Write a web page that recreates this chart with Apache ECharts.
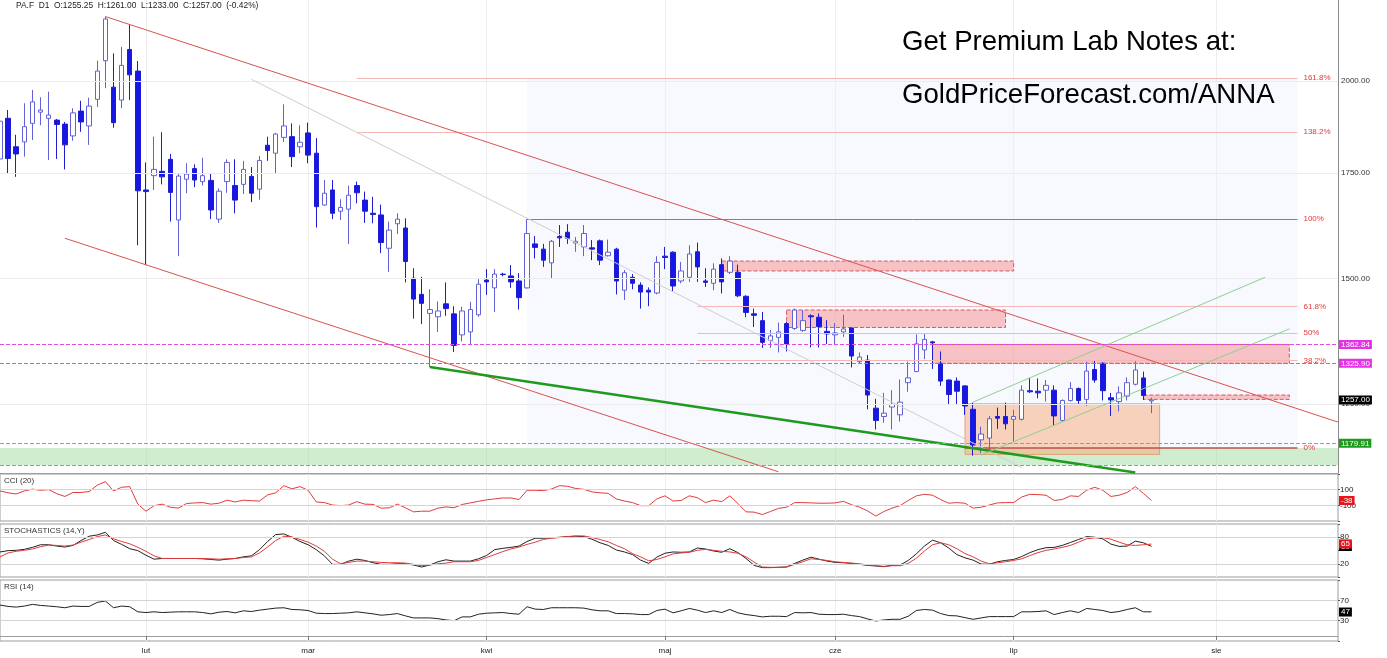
<!DOCTYPE html>
<html><head><meta charset="utf-8">
<script src="https://cdn.jsdelivr.net/npm/echarts@6.0.0/dist/echarts.min.js"></script>
<style>html,body{margin:0;padding:0;background:#fff}#c{width:1387px;height:658px}</style>
</head><body><div id="c"></div>
<script>
// ---------- DATA ----------
const N_SLOTS = 166;
const categories = Array.from({length: N_SLOTS}, (_, i) => 'D' + i);
const monthTickIdx = [18, 38, 60, 82, 103, 125, 150];
const monthTickLabels = ['lut', 'mar', 'kwi', 'maj', 'cze', 'lip', 'sie'];

const open = [1786,1895,1818,1831,1881,1912,1895,1890,1879,1847,1915,1874,1948,2061,1983,1946,2095,2030,1707,1743,
1754,1785,1634,1734,1761,1728,1731,1636,1728,1718,1721,1741,1709,1822,1801,1843,1845,1818,1855,1801,
1670,1707,1655,1660,1718,1682,1650,1646,1568,1625,1615,1501,1466,1426,1419,1446,1425,1382,1388,1423,
1497,1480,1510,1506,1495,1480,1578,1566,1535,1595,1605,1580,1571,1569,1585,1551,1566,1475,1503,1486,
1475,1469,1550,1559,1495,1503,1560,1495,1490,1531,1514,1514,1462,1425,1411,1371,1377,1405,1395,1391,
1421,1418,1389,1382,1388,1396,1329,1332,1242,1227,1244,1230,1289,1310,1352,1368,1326,1294,1292,1283,
1240,1186,1189,1227,1227,1222,1222,1274,1273,1275,1275,1220,1256,1278,1258,1314,1326,1261,1254,1264,
1286,1298,1255.25];
const close = [1887,1787,1799,1872,1941,1918,1904,1878,1823,1910,1885,1929,2030,2190,1883,2047,2019,1705,1703,1759,
1740,1701,1742,1747,1732,1743,1658,1704,1777,1682,1759,1699,1782,1808,1852,1874,1792,1830,1796,1666,
1699,1650,1664,1694,1700,1655,1647,1581,1610,1636,1538,1456,1447,1434,1431,1436,1361,1431,1434,1488,
1493,1510,1509,1493,1459,1602,1570,1541,1584,1592,1591,1584,1602,1566,1541,1559,1495,1513,1490,1471,
1471,1536,1547,1484,1517,1555,1526,1492,1521,1493,1539,1463,1428,1422,1367,1380,1388,1364,1433,1411,
1419,1399,1384,1386,1394,1340,1338,1266,1220,1233,1249,1253,1298,1364,1373,1366,1292,1267,1273,1246,
1177,1196,1223,1224,1214,1227,1275,1272,1270,1284,1228,1256,1278,1256,1311,1294,1274,1257,1270,1289,
1313,1265,1257];
const high = [1896,1918,1850,1937,1975,1954,1970,1893,1885,1923,1944,1953,2061,2198,2083,2103,2173,2060,1777,1845,
1857,1799,1749,1775,1772,1789,1749,1711,1785,1785,1781,1765,1794,1845,1855,1934,1881,1876,1883,1841,
1732,1732,1684,1718,1728,1703,1690,1671,1630,1650,1638,1523,1504,1477,1451,1492,1441,1440,1450,1499,
1521,1521,1513,1530,1512,1636,1596,1578,1587,1622,1624,1594,1622,1587,1588,1588,1569,1519,1510,1492,
1481,1550,1571,1561,1537,1575,1581,1523,1534,1545,1550,1531,1464,1436,1429,1392,1407,1409,1436,1433,
1424,1426,1412,1406,1423,1397,1347,1342,1259,1270,1275,1295,1329,1383,1385,1370,1349,1295,1299,1284,
1252,1209,1228,1243,1252,1239,1284,1298,1297,1294,1284,1258,1290,1280,1329,1331,1328,1270,1282,1299,
1330,1310,1261];
const low = [1778,1749,1740,1792,1836,1876,1783,1786,1759,1834,1858,1823,1926,1980,1869,1923,1946,1575,1530,1707,
1721,1630,1550,1699,1714,1718,1636,1627,1700,1650,1697,1677,1683,1781,1747,1831,1765,1801,1775,1616,
1668,1636,1634,1578,1674,1627,1626,1557,1515,1601,1492,1415,1404,1319,1388,1421,1348,1369,1363,1419,
1465,1429,1505,1480,1434,1478,1545,1526,1501,1571,1578,1560,1550,1541,1530,1549,1466,1454,1477,1436,
1441,1466,1521,1473,1490,1493,1493,1482,1475,1468,1510,1460,1418,1398,1356,1356,1347,1349,1392,1388,
1357,1357,1364,1364,1378,1318,1326,1240,1204,1216,1204,1218,1272,1309,1334,1315,1283,1248,1249,1230,
1159,1163,1167,1205,1204,1182,1220,1270,1260,1254,1210,1218,1254,1250,1246,1289,1256,1228,1236,1256,
1284,1257,1233];

const cci = [84,60,45,84,107,92,100,49,13,64,64,76,158,202,84,131,139,-85,-175,-104,
-85,-124,-136,-77,-69,-65,-85,-73,-34,-57,-34,-41,-45,33,60,151,111,139,92,-57,
-65,-96,-104,-96,-53,-85,-88,-136,-132,-85,-132,-183,-175,-175,-136,-120,-130,-89,-69,-49,
-30,-18,-6,-6,-26,92,92,88,108,151,143,115,104,72,60,53,-18,-45,-65,-104,
-104,-18,21,-45,-38,21,-2,-65,-34,-53,21,-77,-183,-187,-218,-179,-139,-124,-65,-65,
-69,-73,-73,-69,-49,-92,-124,-171,-237,-179,-136,-104,-38,21,41,29,-26,-73,-65,-73,
-136,-124,-96,-69,-65,-65,6,41,37,29,-38,-26,21,13,92,131,92,13,29,64,
139,53,-38];
const stochK = [46.7,49.7,50.4,52.6,57.1,63,63,60,57.8,61.5,72.6,82.3,85.2,91.2,72.6,63.8,54.1,49.7,39.3,30.4,
31.9,31.9,31.9,31.9,31.9,31.2,29.7,28.2,30.4,31.9,35.6,37.8,51.9,70.4,86,87.5,80,70.4,63,51.9,
37.8,18.6,18.6,26,30.4,27.5,22.3,18.6,18.6,20,20,17.1,12.6,17.1,24.5,29,26,26,26,31.2,
38.6,51.9,54.9,57.1,60,70.4,77.8,77.8,78.6,80,81.5,82.3,81.5,75.6,67.5,61.5,51.2,46.7,40.8,28.2,
20.8,34.9,43.8,46.7,46,46.7,55.6,53.4,48.9,46,54.1,45.2,31.9,16.3,11.2,11.2,11.9,12.6,20.8,28.2,
34.9,30.4,26,23,22.3,20.8,18.6,16.3,14.9,13.4,16.3,17,27.5,42.3,60,73.4,67.5,55.6,40.8,33.4,
28.2,19.3,18.6,24.5,27.5,29.7,36.3,45.2,51.9,56.4,57.1,61.5,68.2,74.9,81.5,80,76.4,64.5,59.3,60,
71.2,67.5,59.3];
const stochD = [35.6,44.5,48.2,50.4,53.4,58.6,62.3,61.5,60,62.3,68.9,74.9,81.5,85.2,76.4,70.4,65.2,57.1,48.2,37.8,
31.9,31.9,31.9,31.9,31.9,31.9,31.2,30.4,31.2,31.9,34.1,35.6,44.5,57.8,72.6,82.3,80.8,74.9,68.9,60,
48.2,30.4,20,23,26,26,24.5,23,22.3,22.3,21.5,18.6,15.6,17.1,20,21.5,24.5,24.5,24.5,27.5,
34.1,40.8,47.5,53.4,57.8,63.8,68.9,74.9,77.8,79.3,81.5,83,83,79.3,74.9,69.7,61.5,54.1,43,35.6,
26.7,29.7,35.6,42.3,44.5,46,50.4,52.6,50.4,48.2,46.7,43.8,35.6,23.8,12.6,11.9,11.9,12.6,18.6,24.5,
31.2,29.7,27.5,24.5,23,21.5,20,17.1,15.6,14.1,15.6,15.6,20.8,32.6,48.9,63,67.5,63,54.1,43,
35.6,26,20,22.3,24.5,27.5,31.2,38.6,45.2,50.4,53.4,57.1,61.5,68.9,76.4,78.6,79.3,75.6,68.9,63,
61.5,63,64.5];
const rsi = [60.7,58,56.7,58.7,62,60,58.7,57.4,55.4,58.7,58,58,66,68.7,55.4,58.7,57.4,47.4,46,47.4,
46,46.7,47.4,47.4,47.4,46,43.4,46.7,48,45.4,49.4,48,50.7,52.7,54.7,55.4,52,51.4,50,44.7,
44,44,44.7,45.4,47.4,45.4,43.4,40.7,42,44,39.4,35.4,35.4,35.4,34,31.4,30,37.4,37.4,42.7,
44.7,45.4,46,44,42.7,57.4,52.7,52,55.4,55.4,55.4,55.4,54.7,51.4,49.4,49.4,44,44,43.4,42,
42,50,52.7,45.4,49.4,54,50.7,46,49.4,46,52,45.4,42,40,37.4,38.7,38.7,38,46,45.4,
46,42.7,42,42,42.7,40,38,33.4,29.4,31.4,32.7,32.7,38.7,50,52,50.7,44,40,39.4,36,
32.7,35.4,38,38,38,38,47.4,47.4,48,49.4,42,46,49.4,46,54,52,50,46,48,52,
55.4,47.4,47.4];

const priceGridValues = [2000, 1750, 1500, 1250];
const fibNames = ['161.8%', '138.2%', '100%', '61.8%', '50%', '38.2%', '0%'];
const fibValues = [2010, 1858, 1636, 1440, 1386, 1331, 1172];
const resistanceLevels = [1362.84, 1325.90];
const supportLevel = 1179.91;
const lastClose = 1257.00;
const lastCCI = -38, lastK = 59, lastD = 65, lastRSI = 47;
const headerText = 'PA.F  D1  O:1255.25  H:1261.00  L:1233.00  C:1257.00  (-0.42%)';

// ---------- BUILD ----------
const FONT = '"Liberation Sans", Arial, Helvetica, sans-serif';
const candles = open.map((o, i) => [o, close[i], low[i], high[i]]);
const monthInterval = (i) => monthTickIdx.indexOf(i) >= 0;

function seg(a, b) { return [{coord: a}, {coord: b}]; }
function box(x1, y1, x2, y2, style) {
  return [{coord: [x1, y1], itemStyle: Object.assign({borderWidth: 0}, style)}, {coord: [x2, y2]}];
}
function tag(v, text, bg, fg) {
  return {yAxis: v, lineStyle: {color: 'transparent', width: 0},
    label: {show: true, position: 'end', distance: 1, formatter: text, backgroundColor: bg,
      color: fg, padding: [1, 2, 0, 2], fontSize: 8, fontFamily: FONT}};
}
function lineHost(name, data, color, width, type, label, z, axis) {
  return {name, type: 'line', xAxisIndex: axis || 0, yAxisIndex: axis || 0, data: [], z: z || 2, silent: true,
    color: color,
    markLine: {silent: true, symbol: ['none', 'none'], animation: false,
      lineStyle: {color, width, type, opacity: 1},
      label: label || {show: false}, emphasis: {disabled: true}, data}};
}

const fibStart = [44, 44, 65, 86, 86, 86, 119];
const fibColor = ['#f5b6b6', '#f5b6b6', '#e25b5b', '#f5b6b6', '#f5b6b6', '#f5b6b6', '#c0504d'];
const fibWidth = [1, 1, 1, 1, 1, 1, 1.5];

const redZone = {color: 'rgba(243,140,140,0.5)', borderColor: '#d65a5a', borderWidth: 1, borderType: 'dashed'};
const areaData = [
  box(65, fibValues[0], 160, fibValues[6], {color: 'rgba(236,236,255,0.35)'}),
  box(0, 1172, 165, 1143, {color: 'rgba(150,215,150,0.45)'}),
  box(119, 1250, 143, 1161, {color: 'rgba(246,170,120,0.5)', borderColor: 'rgba(225,140,95,0.7)', borderWidth: 1}),
  box(89, 1539, 125, 1517, redZone),
  box(97, 1433, 124, 1397, redZone),
  box(115, resistanceLevels[0], 159, resistanceLevels[1], redZone),
  box(141, 1266, 159, 1258, redZone)
];

const fibLabel = (n) => ({show: true, position: 'end', distance: 6, formatter: n, color: '#e03a3a', fontSize: 8, fontFamily: FONT});
const fibSeries = fibNames.map((n, k) => lineHost('fib' + n,
  [seg([fibStart[k], fibValues[k]], [160, fibValues[k]])], fibColor[k], fibWidth[k], 'solid', fibLabel(n), 2));

const gridSeries = lineHost('priceGrid', priceGridValues.map(v => ({yAxis: v})), '#ebebeb', 1, 'solid',
  {show: true, position: 'end', distance: 3, formatter: p => Number(p.value).toFixed(2), color: '#333', fontSize: 8, fontFamily: FONT}, 2);

const trendSeries = [
  lineHost('upperChannel', [seg([13, 2198], [165, 1217])], '#d9534f', 1, 'solid', null, 2),
  lineHost('lowerChannel', [seg([8, 1591], [96, 1132])], '#d9534f', 1, 'solid', null, 2),
  lineHost('greyTrend', [seg([31, 2006], [126, 1139])], '#cfcfcf', 1, 'solid', null, 2),
  lineHost('greenSupport', [seg([53, 1319], [140, 1131])], '#1f9a1f', 2.5, 'solid', null, 2),
  lineHost('risingChannel', [seg([120, 1253], [156, 1503]), seg([121, 1160], [159, 1394])], '#8fd08f', 1, 'solid', null, 2),
  lineHost('resistance', resistanceLevels.map(v => ({yAxis: v})), '#e24ce2', 1, [4, 2], null, 2),
  lineHost('support', [{yAxis: supportLevel}, {yAxis: 1143}], '#6cbc6c', 1, [4, 2], null, 2)
];

const tagData = [
  tag(resistanceLevels[0], resistanceLevels[0].toFixed(2), '#e433e4', '#fff'),
  tag(resistanceLevels[1], resistanceLevels[1].toFixed(2), '#e433e4', '#fff'),
  tag(lastClose, lastClose.toFixed(2), '#000', '#fff'),
  tag(supportLevel, supportLevel.toFixed(2), '#1e9a1e', '#fff')
];

function gridLines(vals) {
  return {silent: true, symbol: ['none', 'none'], animation: false,
    lineStyle: {color: '#d4d4d4', width: 1, type: 'solid'}, label: {show: false},
    data: vals.map(v => ({yAxis: v}))};
}
function tagLine(items) {
  return {silent: true, symbol: ['none', 'none'], animation: false, data: items};
}

const grids = [
  {left: 0, width: 1338, top: 0, height: 473, outerBoundsMode: 'none'},
  {left: 0, width: 1338, top: 474, height: 47, show: true, borderColor: '#9d9d9d', borderWidth: 1, outerBoundsMode: 'none'},
  {left: 0, width: 1338, top: 524, height: 53, show: true, borderColor: '#9d9d9d', borderWidth: 1, outerBoundsMode: 'none'},
  {left: 0, width: 1338, top: 580, height: 61, show: true, borderColor: '#9d9d9d', borderWidth: 1, outerBoundsMode: 'none'}
];
const xAxes = grids.map((g, i) => ({
  type: 'category', gridIndex: i, data: categories, boundaryGap: false,
  axisLine: {show: i === 0 || i === 3, lineStyle: {color: '#9d9d9d'}},
  axisTick: {show: i === 3, interval: monthInterval, length: 4, lineStyle: {color: '#777'}},
  axisLabel: {show: i === 3, interval: monthInterval, margin: 6, fontSize: 8, color: '#222', fontFamily: FONT,
    formatter: (v, idx) => monthTickLabels[monthTickIdx.indexOf(idx)] || ''},
  splitLine: {show: true, interval: monthInterval, lineStyle: {color: '#eeeeee'}}
}));
const subAxis = (gi, min, max, interval, shown) => ({
  type: 'value', gridIndex: gi, position: 'right', min, max, interval,
  axisLine: {show: false}, axisTick: {show: true, length: 2, lineStyle: {color: '#555'}},
  axisLabel: {margin: 2, fontSize: 8, color: '#222', fontFamily: FONT,
    formatter: v => shown.indexOf(v) >= 0 ? String(v) : ''},
  splitLine: {show: false}
});
const yAxes = [
  {type: 'log', logBase: 10, gridIndex: 0, position: 'right', min: 1130, max: 2251.6,
    axisLine: {show: true, lineStyle: {color: '#8a8a8a'}}, axisTick: {show: false},
    axisLabel: {show: false}, splitLine: {show: false}},
  subAxis(1, -300, 300, 200, [100, -100]),
  subAxis(2, -10, 110, 30, [20, 80]),
  subAxis(3, -10, 110, 40, [30, 70])
];

const option = {
  animation: false,
  backgroundColor: '#ffffff',
  grid: grids, xAxis: xAxes, yAxis: yAxes,
  graphic: [
    {type: 'text', left: 16, top: 2, z: 10, style: {text: headerText, font: '8.4px ' + FONT, fill: '#222'}},
    {type: 'text', left: 902, top: 28, z: 10, style: {text: 'Get Premium Lab Notes at:', font: '27.6px ' + FONT, fill: '#000'}},
    {type: 'text', left: 902, top: 81, z: 10, style: {text: 'GoldPriceForecast.com/ANNA', font: '27.6px ' + FONT, fill: '#000'}},
    {type: 'text', left: 4, top: 477, z: 10, style: {text: 'CCI (20)', font: '8px ' + FONT, fill: '#333'}},
    {type: 'text', left: 4, top: 527, z: 10, style: {text: 'STOCHASTICS (14,Y)', font: '8px ' + FONT, fill: '#333'}},
    {type: 'text', left: 4, top: 583, z: 10, style: {text: 'RSI (14)', font: '8px ' + FONT, fill: '#333'}}
  ],
  series: [
    {name: 'zones', type: 'line', xAxisIndex: 0, yAxisIndex: 0, data: [], z: 1, silent: true,
      markArea: {silent: true, animation: false, data: areaData}},
    gridSeries,
    ...fibSeries,
    ...trendSeries,
    {name: 'PA.F', type: 'candlestick', xAxisIndex: 0, yAxisIndex: 0, data: candles, barWidth: 5, z: 3,
      itemStyle: {color: '#ffffff', color0: '#1616e6', borderColor: '#6262d6', borderColor0: '#1e1ed0', borderWidth: 1}},
    {name: 'tags', type: 'line', xAxisIndex: 0, yAxisIndex: 0, data: [], z: 5, silent: true,
      markLine: tagLine(tagData)},
    {name: 'CCI (20)', type: 'line', xAxisIndex: 1, yAxisIndex: 1, data: cci, symbol: 'none', z: 3,
      lineStyle: {color: '#e23b3b', width: 1}, markLine: gridLines([100, -100])},
    {name: '%K', type: 'line', xAxisIndex: 2, yAxisIndex: 2, data: stochK, symbol: 'none', z: 3,
      lineStyle: {color: '#222', width: 1}, markLine: gridLines([80, 20])},
    {name: '%D', type: 'line', xAxisIndex: 2, yAxisIndex: 2, data: stochD, symbol: 'none', z: 4,
      lineStyle: {color: '#e23b3b', width: 1}},
    {name: 'RSI (14)', type: 'line', xAxisIndex: 3, yAxisIndex: 3, data: rsi, symbol: 'none', z: 3,
      lineStyle: {color: '#222', width: 1}, markLine: gridLines([70, 30])},
    {name: 'cciTag', type: 'line', xAxisIndex: 1, yAxisIndex: 1, data: [], z: 6, markLine: tagLine([tag(lastCCI, String(lastCCI), '#e8141b', '#fff')])},
    {name: 'kTag', type: 'line', xAxisIndex: 2, yAxisIndex: 2, data: [], z: 6, markLine: tagLine([tag(lastK, String(lastK), '#000', '#fff')])},
    {name: 'dTag', type: 'line', xAxisIndex: 2, yAxisIndex: 2, data: [], z: 7, markLine: tagLine([tag(lastD, String(lastD), '#e8141b', '#fff')])},
    {name: 'rsiTag', type: 'line', xAxisIndex: 3, yAxisIndex: 3, data: [], z: 6, markLine: tagLine([tag(lastRSI, String(lastRSI), '#000', '#fff')])}
  ]
};
const chart = echarts.init(document.getElementById('c'));
chart.setOption(option);
</script>
</body></html>
